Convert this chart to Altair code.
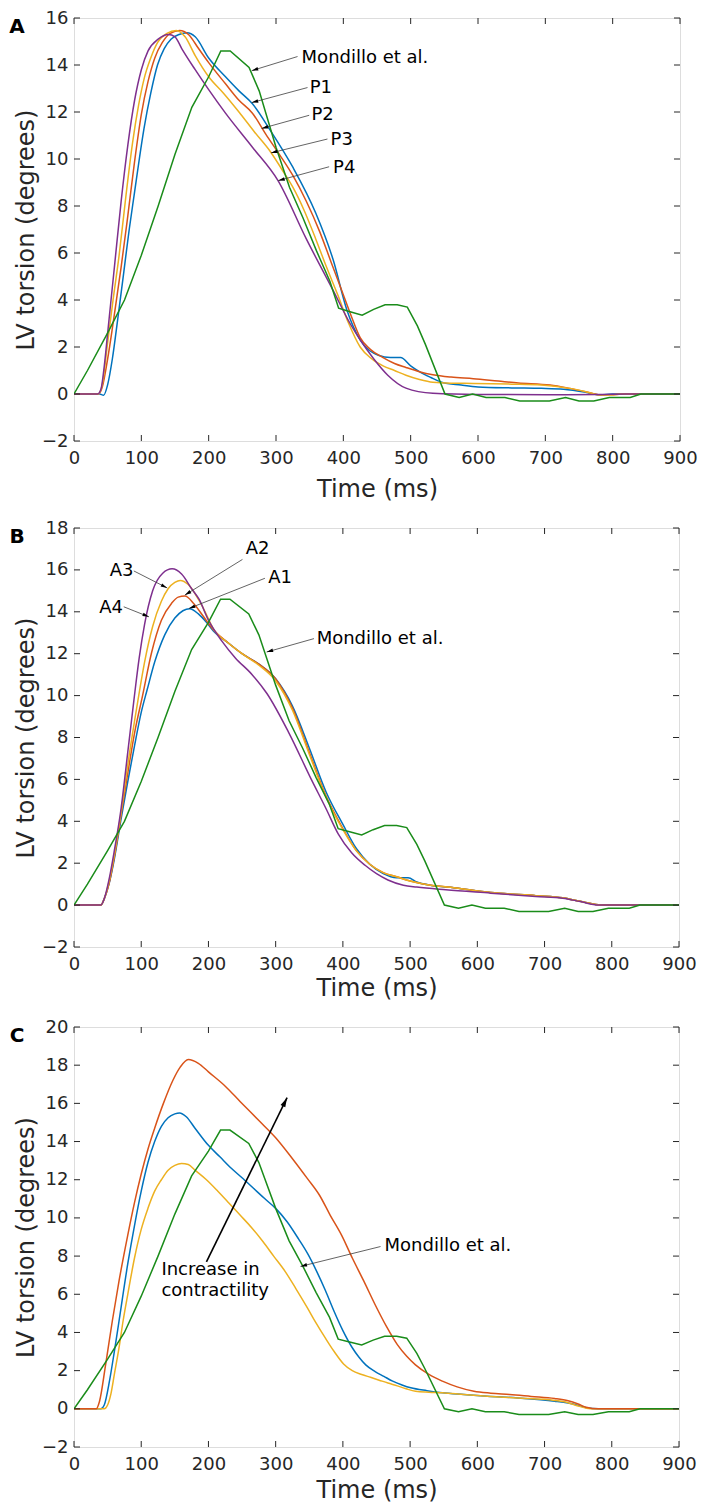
import math
import altair as alt
import pandas as pd

FONT = "DejaVu Sans"
INK = "#262626"
BLUE, RED, YELLOW, PURPLE, GREEN = "#0072BD", "#D95319", "#EDB120", "#7E2F8E", "#1A8C1A"
X_TICKS = list(range(0, 1000, 100))

# ---------------- Mondillo et al. (same in all panels) ----------------
MON_T = [0, 20, 50, 75, 100, 125, 150, 175, 200, 218, 232, 260, 275, 300, 320, 340, 360, 380, 393, 410,
         428, 445, 462, 480, 495, 510, 522, 551, 572, 592, 612, 640, 662, 706, 730, 750, 772, 795, 826, 842, 900]
MON_V = [0, 1.0, 2.6, 4.0, 5.9, 8.0, 10.2, 12.2, 13.5, 14.6, 14.6, 13.9, 12.9, 10.5, 8.8, 7.5, 6.1, 4.8, 3.65, 3.5,
         3.35, 3.6, 3.8, 3.8, 3.7, 2.9, 2.1, 0.0, -0.15, 0.0, -0.15, -0.15, -0.3, -0.3, -0.15, -0.3, -0.3, -0.15, -0.15, 0.0, 0.0]

# ---------------- Panel A ----------------
A_P1_T = [0, 38, 44, 50, 57, 65, 74, 82, 90, 97, 104, 114, 124, 134, 144, 156, 168, 180, 200, 225, 245, 265, 292,
          325, 359, 385, 405, 425, 452, 470, 485, 500, 513, 530, 546, 575, 600, 650, 694, 727, 760, 781, 800, 828, 900]
A_P1_V = [0, 0, -0.05, 0.4, 1.5, 3.2, 5.2, 7.0, 8.6, 10.0, 11.3, 12.8, 14.0, 14.7, 15.1, 15.3, 15.37, 15.2, 14.3,
          13.5, 12.9, 12.35, 11.2, 9.65, 7.7, 5.7, 3.6, 2.3, 1.65, 1.55, 1.55, 1.2, 0.95, 0.7, 0.5, 0.38, 0.3, 0.26,
          0.24, 0.2, 0.07, -0.04, 0, 0, 0]
A_P2_T = [0, 36, 42, 50, 57, 64, 70, 80, 90, 100, 110, 120, 131, 143, 157, 170, 185, 200, 225, 245, 265, 285, 305,
          325, 345, 365, 382, 399, 412, 425, 440, 459, 476, 493, 513, 533, 560, 593, 630, 660, 707, 734, 760, 781,
          801, 820, 900]
A_P2_V = [0, 0, 0.3, 1.5, 2.8, 4.2, 5.4, 7.6, 9.9, 11.9, 13.3, 14.3, 14.95, 15.35, 15.47, 15.3, 14.7, 14.1, 13.2,
          12.5, 11.95, 11.05, 10.2, 9.3, 8.2, 6.9, 5.6, 4.3, 3.3, 2.4, 1.9, 1.55, 1.3, 1.13, 0.95, 0.82, 0.72, 0.65,
          0.55, 0.47, 0.38, 0.25, 0.1, -0.03, -0.03, 0, 0]
A_P3_T = [0, 36, 42, 50, 58, 67, 77, 87, 96, 104, 114, 124, 138, 152, 165, 180, 200, 222, 245, 268, 292, 310, 325,
          342, 359, 375, 392, 408, 425, 442, 459, 476, 493, 513, 533, 560, 593, 650, 694, 734, 760, 781, 801, 820, 900]
A_P3_V = [0, 0, 0.4, 2.2, 4.0, 5.9, 8.4, 10.7, 12.3, 13.4, 14.3, 14.95, 15.35, 15.47, 15.2, 14.4, 13.5, 12.8, 12.0,
          11.15, 10.3, 9.5, 8.8, 7.8, 6.6, 5.4, 4.2, 3.0, 2.0, 1.5, 1.2, 1.0, 0.8, 0.62, 0.5, 0.46, 0.45, 0.42, 0.38,
          0.25, 0.1, -0.04, -0.03, 0, 0]
A_P4_T = [0, 35, 40, 45, 50, 55, 60, 70, 80, 90, 100, 110, 125, 140, 150, 160, 180, 200, 225, 265, 303, 345, 385,
          410, 425, 445, 466, 493, 533, 600, 700, 780, 820, 900]
A_P4_V = [0, 0, 0.2, 1.2, 2.6, 4.0, 5.4, 8.2, 10.6, 12.5, 13.8, 14.6, 15.1, 15.3, 15.2, 14.7, 13.8, 12.95, 11.95,
          10.5, 9.08, 6.6, 4.4, 3.0, 2.3, 1.5, 0.8, 0.25, 0.03, -0.02, -0.03, -0.02, 0, 0]

# ---------------- Panel B ----------------
B_A1_T = [0, 40, 45, 52, 60, 70, 80, 90, 100, 109, 120, 135, 150, 162, 172, 185, 197, 207, 230, 250, 275, 300, 325,
          350, 375, 400, 420, 440, 460, 480, 490, 497, 510, 530, 560, 620, 687, 727, 753, 780, 800, 900]
B_A1_V = [0, 0, 0.3, 1.0, 2.2, 4.1, 5.9, 7.6, 9.2, 10.3, 11.6, 12.9, 13.7, 14.05, 14.15, 13.9, 13.5, 13.1, 12.5,
          12.0, 11.5, 10.8, 9.5, 7.5, 5.4, 3.85, 2.7, 1.95, 1.5, 1.3, 1.3, 1.3, 1.1, 0.95, 0.85, 0.6, 0.45, 0.35,
          0.18, 0.02, 0, 0]
B_A2_T = [0, 40, 45, 52, 60, 70, 80, 90, 102, 115, 130, 145, 155, 165, 178, 192, 207, 230, 250, 275, 300, 325, 350,
          375, 400, 420, 440, 460, 480, 500, 530, 560, 620, 687, 727, 753, 780, 800, 900]
B_A2_V = [0, 0, 0.3, 1.0, 2.3, 4.3, 6.3, 8.2, 10.0, 12.0, 13.6, 14.4, 14.7, 14.75, 14.4, 13.8, 13.15, 12.5, 12.0,
          11.5, 10.8, 9.4, 7.3, 5.2, 3.65, 2.6, 1.95, 1.55, 1.35, 1.15, 0.95, 0.85, 0.6, 0.45, 0.35, 0.18, 0.02, 0, 0]
B_A3_T = [0, 40, 45, 52, 60, 70, 80, 95, 105, 117, 130, 140, 150, 158, 170, 185, 195, 207, 230, 250, 275, 300, 325,
          350, 375, 400, 420, 440, 460, 480, 500, 530, 560, 620, 687, 727, 753, 780, 800, 900]
B_A3_V = [0, 0, 0.3, 1.1, 2.4, 4.4, 6.7, 9.75, 11.6, 13.3, 14.5, 15.1, 15.4, 15.5, 15.3, 14.6, 14.0, 13.2, 12.5,
          12.0, 11.45, 10.7, 9.3, 7.2, 5.15, 3.6, 2.6, 1.95, 1.55, 1.35, 1.15, 0.95, 0.85, 0.6, 0.45, 0.35, 0.18,
          0.02, 0, 0]
B_A4_T = [0, 40, 45, 52, 60, 70, 80, 89, 97, 105, 117, 132, 146, 160, 175, 186, 200, 220, 240, 265, 287, 320, 353,
          375, 393, 413, 433, 450, 467, 490, 510, 553, 620, 687, 727, 753, 780, 800, 900]
B_A4_V = [0, 0, 0.3, 1.2, 2.6, 4.6, 7.3, 9.75, 11.8, 13.4, 15.0, 15.84, 16.05, 15.8, 15.1, 14.6, 13.6, 12.6, 11.8,
          11.0, 10.1, 8.2, 6.0, 4.6, 3.4, 2.5, 1.9, 1.5, 1.2, 0.95, 0.86, 0.73, 0.57, 0.41, 0.33, 0.17, 0.0, 0, 0]

# ---------------- Panel C ----------------
C_HI_T = [0, 33, 38, 47, 57, 67, 80, 90, 100, 110, 120, 133, 147, 158, 170, 185, 200, 225, 247, 275, 300, 325, 347,
          365, 381, 398, 414, 431, 448, 465, 481, 495, 508, 528, 548, 570, 595, 620, 648, 680, 715, 735, 750, 762,
          780, 900]
C_HI_V = [0, 0, 0.4, 2.3, 4.6, 6.7, 9.1, 10.8, 12.3, 13.6, 14.7, 16.0, 17.2, 17.9, 18.3, 18.1, 17.65, 16.9, 16.1,
          15.1, 14.2, 13.1, 12.07, 11.2, 10.15, 9.1, 7.9, 6.7, 5.45, 4.3, 3.36, 2.75, 2.3, 1.8, 1.45, 1.15, 0.92,
          0.82, 0.75, 0.65, 0.54, 0.42, 0.25, 0.08, 0.0, 0.0]
C_MID_T = [0, 40, 45, 53, 60, 67, 80, 90, 100, 110, 120, 130, 140, 150, 157, 167, 180, 200, 217, 234, 250, 267, 284,
           300, 317, 334, 348, 361, 374, 387, 400, 414, 424, 434, 448, 461, 474, 488, 501, 525, 548, 580, 615, 660,
           715, 735, 750, 762, 780, 900]
C_MID_V = [0, 0, 0.2, 1.5, 3.0, 4.6, 7.6, 9.6, 11.4, 12.9, 14.0, 14.8, 15.25, 15.45, 15.5, 15.3, 14.7, 13.8, 13.2,
           12.6, 12.1, 11.55, 11.0, 10.5, 9.8, 8.9, 8.1, 7.2, 6.2, 5.1, 4.1, 3.2, 2.7, 2.3, 1.95, 1.7, 1.45, 1.25,
           1.1, 0.95, 0.84, 0.75, 0.66, 0.57, 0.4, 0.3, 0.18, 0.06, 0.0, 0.0]
C_LO_T = [0, 45, 50, 55, 60, 67, 73, 80, 90, 100, 110, 120, 130, 140, 150, 160, 170, 180, 197, 214, 230, 247, 264,
          281, 297, 314, 330, 347, 360, 374, 387, 401, 414, 428, 441, 454, 467, 481, 494, 508, 528, 548, 580, 615,
          660, 715, 735, 750, 768, 900]
C_LO_V = [0, 0, 0.2, 0.8, 1.8, 3.2, 4.6, 6.0, 7.9, 9.4, 10.5, 11.4, 12.0, 12.5, 12.75, 12.85, 12.8, 12.5, 12.0,
          11.4, 10.8, 10.15, 9.5, 8.76, 8.0, 7.2, 6.3, 5.3, 4.5, 3.7, 3.0, 2.35, 2.0, 1.8, 1.65, 1.5, 1.35, 1.2, 1.05,
          0.92, 0.87, 0.84, 0.75, 0.66, 0.57, 0.44, 0.32, 0.15, 0.0, 0.0]

# ---------------- Annotations (data coordinates) ----------------
A_TEXT = [("Mondillo et al.", 338, 14.3), ("P1", 350, 13.04), ("P2", 352.7, 11.86),
          ("P3", 381, 10.82), ("P4", 384.8, 9.63)]
A_CONN = [(332, 14.36, 264, 13.76), (346.8, 13.04, 264, 12.4), (349.3, 11.86, 278.7, 11.3),
          (376.4, 10.85, 292.6, 10.26), (378.9, 9.67, 303.4, 9.08)]

B_TEXT = [("A3", 53, 15.95), ("A4", 37.5, 14.2), ("A2", 255.5, 17.0),
          ("A1", 289, 15.6), ("Mondillo et al.", 361, 12.72)]
B_CONN = [(89, 15.95, 138.6, 15.14), (74, 14.24, 111.5, 13.76), (250.6, 16.5, 165, 14.8),
          (284, 15.6, 171, 14.16), (357, 12.72, 286.6, 12.08)]

C_TEXT = [("Increase in", 130, 7.28), ("contractility", 130, 6.15), ("Mondillo et al.", 462, 8.54)]
C_CONN = [(456, 8.5, 337, 7.46)]
C_BIG_ARROW = [(197, 7.7, 317, 16.3)]

HEAD = "M0,0L-0.55,2L0.55,2Z"


def head_rows(conns, W, H, ylim):
    rows = []
    for t0, v0, t1, v1 in conns:
        dx = (t1 - t0) * W / 900.0
        dy = -(v1 - v0) * H / (ylim[1] - ylim[0])
        ang = math.degrees(math.atan2(dx, -dy)) % 360
        rows.append({"t": t1, "v": v1, "ang": ang})
    return pd.DataFrame(rows)


def panel(letter, series, ylim, W, H, texts, conns, big, xlabel_pad, xtitle_pad, letter_x, letter_y):
    yticks = list(range(ylim[0], ylim[1] + 1, 2))
    xs = alt.Scale(domain=[0, 900], nice=False, zero=False)
    ys = alt.Scale(domain=list(ylim), nice=False, zero=False)
    x_axis = alt.Axis(values=X_TICKS, title="Time (ms)", grid=False, ticks=False, tickSize=0, domain=False,
                      labelFont=FONT, labelFontSize=18, labelColor=INK, labelPadding=xlabel_pad, labelFlush=False,
                      labelOverlap=False, titleFont=FONT, titleFontSize=24, titleFontWeight="normal",
                      titleColor=INK, titlePadding=xtitle_pad)
    y_axis = alt.Axis(values=yticks, title="LV torsion (degrees)", grid=False, ticks=False, tickSize=0,
                      domain=False, labelFont=FONT, labelFontSize=18, labelColor=INK, labelPadding=6,
                      labelFlush=False, labelOverlap=False, titleFont=FONT, titleFontSize=24,
                      titleFontWeight="normal", titleColor=INK, titlePadding=3)
    X = alt.X("t:Q", scale=xs, axis=x_axis)
    Y = alt.Y("v:Q", scale=ys, axis=y_axis)

    rows = []
    for i, (name, ts, vs, col) in enumerate(series):
        rows += [{"s": f"{i}_{name}", "t": a, "v": b, "c": col} for a, b in zip(ts, vs)]
    df = pd.DataFrame(rows)
    mon = pd.DataFrame({"t": MON_T, "v": MON_V})

    layers = []
    layers.append(alt.Chart(df).mark_line(strokeWidth=1.5, interpolate="monotone", clip=True).encode(
        x=X, y=Y, color=alt.Color("c:N", scale=None), detail="s:N"))
    layers.append(alt.Chart(mon).mark_line(strokeWidth=1.5, color=GREEN, clip=True).encode(x=X, y=Y))

    cdf = pd.DataFrame([{"t": a, "v": b, "t2": c, "v2": d} for a, b, c, d in conns])
    layers.append(alt.Chart(cdf).mark_rule(color="#3c3c3c", strokeWidth=0.8).encode(
        x=X, y=Y, x2="t2:Q", y2="v2:Q"))
    layers.append(alt.Chart(head_rows(conns, W, H, ylim)).mark_point(
        shape=HEAD, filled=True, color="black", size=42, opacity=1, strokeWidth=0).encode(
        x=X, y=Y, angle=alt.Angle("ang:Q", scale=None)))
    if big:
        bdf = pd.DataFrame([{"t": a, "v": b, "t2": c, "v2": d} for a, b, c, d in big])
        layers.append(alt.Chart(bdf).mark_rule(color="black", strokeWidth=1.6).encode(
            x=X, y=Y, x2="t2:Q", y2="v2:Q"))
        layers.append(alt.Chart(head_rows(big, W, H, ylim)).mark_point(
            shape=HEAD, filled=True, color="black", size=90, opacity=1, strokeWidth=0).encode(
            x=X, y=Y, angle=alt.Angle("ang:Q", scale=None)))

    tdf = pd.DataFrame([{"label": s, "t": a, "v": b} for s, a, b in texts])
    layers.append(alt.Chart(tdf).mark_text(align="left", baseline="middle", font=FONT, fontSize=18,
                                           color="black").encode(x=X, y=Y, text="label:N"))

    # inward tick marks on all four sides
    xt = pd.DataFrame({"t": X_TICKS})
    yt = pd.DataFrame({"v": yticks})
    tk = dict(color=INK, strokeWidth=1)
    layers.append(alt.Chart(xt).mark_rule(**tk).encode(x=X, y=alt.value(H), y2=alt.value(H - 6)))
    layers.append(alt.Chart(xt).mark_rule(**tk).encode(x=X, y=alt.value(0), y2=alt.value(6)))
    layers.append(alt.Chart(yt).mark_rule(**tk).encode(y=Y, x=alt.value(0), x2=alt.value(6)))
    layers.append(alt.Chart(yt).mark_rule(**tk).encode(y=Y, x=alt.value(W), x2=alt.value(W - 6)))

    layers.append(alt.Chart(pd.DataFrame({"L": [letter]})).mark_text(
        font=FONT, fontSize=20, fontWeight="bold", color="black", align="center", baseline="middle").encode(
        x=alt.value(letter_x), y=alt.value(letter_y), text="L:N"))

    return alt.layer(*layers).properties(width=W, height=H)


pA = panel("A", [("P1", A_P1_T, A_P1_V, BLUE), ("P2", A_P2_T, A_P2_V, RED),
                 ("P3", A_P3_T, A_P3_V, YELLOW), ("P4", A_P4_T, A_P4_V, PURPLE)],
           (-2, 16), 606, 423, A_TEXT, A_CONN, None, 8, 10, -57, 9)
pB = panel("B", [("A1", B_A1_T, B_A1_V, BLUE), ("A2", B_A2_T, B_A2_V, RED),
                 ("A3", B_A3_T, B_A3_V, YELLOW), ("A4", B_A4_T, B_A4_V, PURPLE)],
           (-2, 18), 605, 419, B_TEXT, B_CONN, None, 8, 3, -57, 9)
pC = panel("C", [("mid", C_MID_T, C_MID_V, BLUE), ("lo", C_LO_T, C_LO_V, YELLOW),
                 ("hi", C_HI_T, C_HI_V, RED)],
           (-2, 20), 605, 420, C_TEXT, C_CONN, C_BIG_ARROW, 8, 5, -57, 9)

chart = alt.vconcat(pA, pB, pC, spacing=16).properties(
    padding={"left": 0, "top": 0, "right": 0, "bottom": 0}
).configure_view(stroke=INK, strokeWidth=1).configure_axis(
    labelFontSize=18, titleFontSize=24, labelFont=FONT, titleFont=FONT
).configure(background="white")

chart.save("out.html", embed_options={"renderer": "svg", "actions": False})
